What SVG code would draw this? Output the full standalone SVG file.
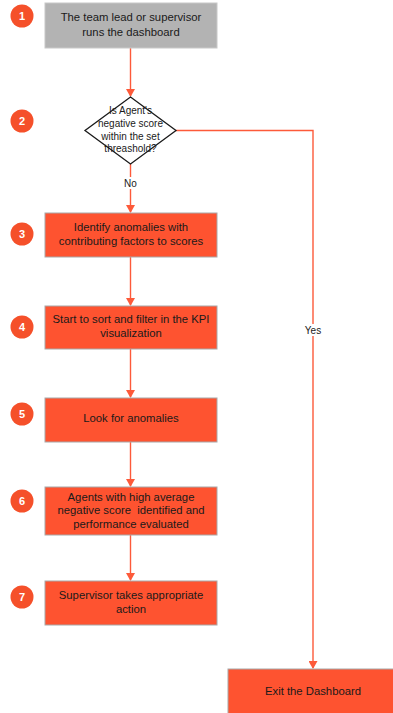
<svg xmlns="http://www.w3.org/2000/svg" width="393" height="713" viewBox="0 0 393 713">
  <style>
    .box { fill: #fe5330; stroke: #a8a8a8; stroke-width: 1; }
    .start { fill: #b3b3b3; stroke: #c8c8c8; stroke-width: 1; }
    .dia { fill: #ffffff; stroke: #1a1a1a; stroke-width: 1.3; }
    .t { font-family: "Liberation Sans", Arial, sans-serif; font-size: 11.3px; fill: #1a1a1a; text-anchor: middle; white-space: pre; }
    .td { font-family: "Liberation Sans", Arial, sans-serif; font-size: 10px; fill: #1a1a1a; text-anchor: middle; }
    .lbl { font-family: "Liberation Sans", Arial, sans-serif; font-size: 10px; fill: #1a1a1a; text-anchor: middle; }
    .badge { fill: #f5502a; }
    .num { font-family: "Liberation Sans", Arial, sans-serif; font-size: 11px; font-weight: bold; fill: #ffffff; text-anchor: middle; }
    .edge { fill: none; stroke: #fd5a3a; stroke-width: 1.4; }
  </style>
  <defs>
    <marker id="arrow" markerWidth="8" markerHeight="9" refX="7" refY="4.5" orient="auto" markerUnits="userSpaceOnUse">
      <path d="M0,0 L8,4.5 L0,9 Z" fill="#fd5a3a"/>
    </marker>
  </defs>

  <!-- step badges -->
  <g id="badges">
    <circle class="badge" cx="22" cy="16" r="11.5"/><text class="num" x="22" y="20">1</text>
    <circle class="badge" cx="22" cy="121" r="11.5"/><text class="num" x="22" y="125">2</text>
    <circle class="badge" cx="22" cy="234" r="11.5"/><text class="num" x="22" y="238">3</text>
    <circle class="badge" cx="22" cy="327" r="11.5"/><text class="num" x="22" y="331">4</text>
    <circle class="badge" cx="22" cy="414" r="11.5"/><text class="num" x="22" y="418">5</text>
    <circle class="badge" cx="22" cy="501" r="11.5"/><text class="num" x="22" y="505">6</text>
    <circle class="badge" cx="22" cy="597" r="11.5"/><text class="num" x="22" y="601">7</text>
  </g>

  <!-- connectors -->
  <g id="connectors">
    <line class="edge" x1="130.5" y1="48" x2="130.5" y2="96" marker-end="url(#arrow)"/>
    <line class="edge" x1="130.5" y1="164" x2="130.5" y2="212" marker-end="url(#arrow)"/>
    <line class="edge" x1="130.5" y1="257" x2="130.5" y2="305" marker-end="url(#arrow)"/>
    <line class="edge" x1="130.5" y1="349" x2="130.5" y2="397" marker-end="url(#arrow)"/>
    <line class="edge" x1="130.5" y1="442" x2="130.5" y2="486" marker-end="url(#arrow)"/>
    <line class="edge" x1="130.5" y1="535" x2="130.5" y2="580" marker-end="url(#arrow)"/>
    <polyline class="edge" points="176,130.5 313,130.5 313,668" marker-end="url(#arrow)"/>
    <rect x="121" y="177" width="19" height="12" fill="#ffffff"/>
    <text class="lbl" x="130.5" y="187">No</text>
    <rect x="302" y="324" width="22" height="12" fill="#ffffff"/>
    <text class="lbl" x="313" y="334">Yes</text>
  </g>

  <g id="n1">
    <rect class="start" x="45" y="3" width="172" height="45"/>
    <text class="t" x="131" y="21">The team lead or supervisor</text>
    <text class="t" x="131" y="36">runs the dashboard</text>
  </g>

  <g id="n2">
    <polygon class="dia" points="130.5,97 176,130.5 130.5,164 85,130.5"/>
    <text class="td" x="130.5" y="114">Is Agent's</text>
    <text class="td" x="130.5" y="127">negative score</text>
    <text class="td" x="130.5" y="140">within the set</text>
    <text class="td" x="130.5" y="152">threashold?</text>
  </g>

  <g id="n3">
    <rect class="box" x="45" y="213" width="172" height="44"/>
    <text class="t" x="131" y="231">Identify anomalies with</text>
    <text class="t" x="131" y="245">contributing factors to scores</text>
  </g>

  <g id="n4">
    <rect class="box" x="45" y="306" width="172" height="43"/>
    <text class="t" x="131" y="323">Start to sort and filter in the KPI</text>
    <text class="t" x="131" y="337">visualization</text>
  </g>

  <g id="n5">
    <rect class="box" x="45" y="398" width="172" height="44"/>
    <text class="t" x="131" y="422">Look for anomalies</text>
  </g>

  <g id="n6">
    <rect class="box" x="45" y="487" width="172" height="48"/>
    <text class="t" x="131" y="501">Agents with high average</text>
    <text class="t" x="131" y="514" xml:space="preserve">negative score  identified and</text>
    <text class="t" x="131" y="528">performance evaluated</text>
  </g>

  <g id="n7">
    <rect class="box" x="45" y="581" width="172" height="44"/>
    <text class="t" x="131" y="599">Supervisor takes appropriate</text>
    <text class="t" x="131" y="613">action</text>
  </g>

  <g id="exit">
    <rect class="box" x="228" y="669" width="172" height="50"/>
    <text class="t" x="313" y="695">Exit the Dashboard</text>
  </g>
</svg>
